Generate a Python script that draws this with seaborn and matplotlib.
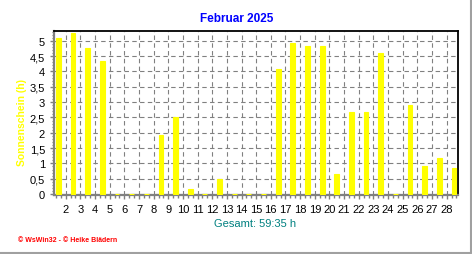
import numpy as np
import pandas as pd
import matplotlib
matplotlib.use("Agg")
import matplotlib.pyplot as plt
from matplotlib.lines import Line2D
from matplotlib.ticker import MultipleLocator, FixedLocator
import seaborn as sns

# ---- data ----
days = list(range(1, 29))
sunshine = [5.10, 5.25, 4.77, 4.34, 0.0, 0.0, 0.0, 1.93, 2.51, 0.16,
            0.0, 0.49, 0.0, 0.0, 0.0, 4.08, 4.92, 4.83, 4.83, 0.64,
            2.67, 2.67, 4.60, 0.0, 2.90, 0.90, 1.17, 0.84]
y_ticks = [0, 0.5, 1, 1.5, 2, 2.5, 3, 3.5, 4, 4.5, 5]
y_tick_labels = ["0", "0,5", "1", "1,5", "2", "2,5", "3", "3,5", "4", "4,5", "5"]
title = "Februar 2025"
y_label = "Sonnenschein (h)"
total_text = "Gesamt: 59:35 h"
footer = "© WsWin32 - © Heike Blädern"

df = pd.DataFrame({"Tag": days, "Sonnenschein": sunshine})

sns.set_style("white")
plt.rcParams["font.family"] = ["Liberation Sans", "DejaVu Sans"]

W, H = 472, 255
fig = plt.figure(figsize=(W / 100, H / 100), dpi=100)
ax = fig.add_axes([54 / W, 1 - 196 / H, (457.5 - 54) / W, (196 - 32.3) / H])

sns.barplot(data=df, x="Tag", y="Sonnenschein", order=days, color="#FFFF00",
            saturation=1, width=0.33, edgecolor="#FFFF00", linewidth=0.8,
            errorbar=None, ax=ax, zorder=3)

n = len(days)
ax.set_xlim(-0.3, n - 0.76)
ax.set_ylim(-0.03, 5.31)

# x ticks at the boundaries between day bars
ax.xaxis.set_major_locator(FixedLocator(np.arange(1, n) - 0.5))
ax.set_xticklabels([str(d) for d in days[1:]])
ax.xaxis.set_minor_locator(FixedLocator(np.arange(-0.5, n, 1 / 3)))
ax.set_yticks(y_ticks)
ax.set_yticklabels(y_tick_labels)
ax.yaxis.set_minor_locator(MultipleLocator(0.1))

ax.set_xlabel("")
ax.set_ylabel("")

ax.tick_params(axis="x", which="major", length=3, width=1, color="#808080",
               pad=3.5, labelsize=8, labelcolor="black", bottom=True)
ax.tick_params(axis="x", which="minor", length=1.8, width=1, color="#808080", bottom=True)
ax.tick_params(axis="y", which="major", length=3, width=1, color="#808080",
               pad=3.5, labelsize=8, labelcolor="black", left=True)
ax.tick_params(axis="y", which="minor", length=1.8, width=0.8, color="#808080", left=True)

ax.grid(True, which="major", axis="both", color="#808080", linewidth=0.8,
        linestyle=(0, (4, 3)), zorder=0)
ax.set_axisbelow(True)

for side in ["bottom", "left"]:
    ax.spines[side].set_color("#808080")
    ax.spines[side].set_linewidth(1.6)
for side in ["top", "right"]:
    ax.spines[side].set_color("black")
    ax.spines[side].set_linewidth(1.3)

# texts
fig.text(237 / W, 1 - 19 / H, title, color="#0000FF", fontsize=8.5,
         fontweight="bold", ha="center", va="center")
fig.text(22 / W, 1 - 122 / H, y_label, color="#FFFF00", fontsize=7.5,
         fontweight="bold", rotation=90, ha="center", va="center")
fig.text(255.5 / W, 1 - 224 / H, total_text, color="#008080", fontsize=8,
         ha="center", va="center")
fig.text(18 / W, 1 - 240.5 / H, footer, color="#FF0000", fontsize=5,
         fontweight="bold", ha="left", va="center")

# frame lines on right and bottom of the image
fig.add_artist(Line2D([470.5 / W, 470.5 / W], [1 - 253.5 / H, 1], transform=fig.transFigure,
                      color="#A0A0A0", linewidth=1.5))
fig.add_artist(Line2D([0, 470.5 / W], [1 - 253.5 / H, 1 - 253.5 / H], transform=fig.transFigure,
                      color="#A0A0A0", linewidth=1.5))

fig.savefig("out.png", dpi=100)
